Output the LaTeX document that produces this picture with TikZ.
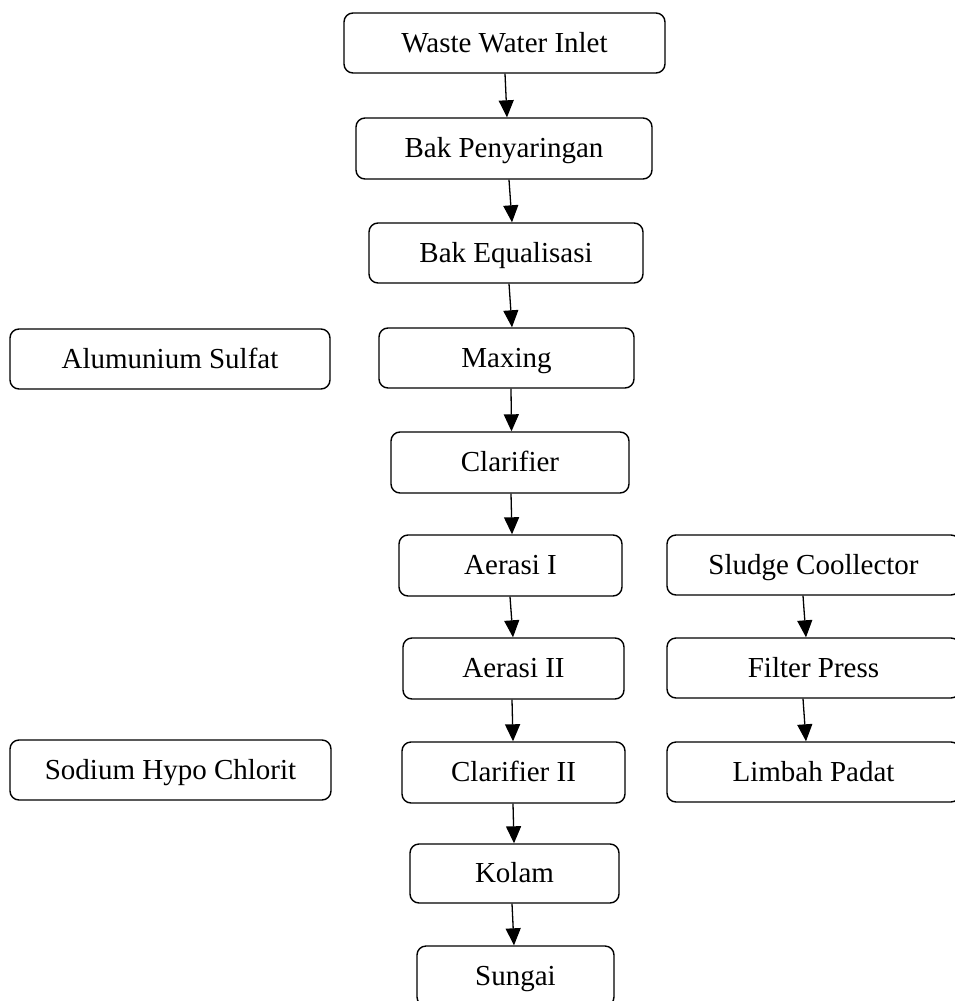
\documentclass[tikz,border=0pt]{standalone}
\usepackage{fontspec}
\setmainfont{Liberation Serif}
\usetikzlibrary{arrows.meta}
\tikzset{
  box/.style={draw, line width=1.4pt, rounded corners=9pt, inner sep=0pt,
    text height=21pt, text depth=3pt,
    font=\fontsize{29}{34}\selectfont, align=center},
  arr/.style={line width=1.3pt, -{Triangle[length=17pt,width=15pt]}}
}
\begin{document}
\begin{tikzpicture}[x=1pt,y=-1pt]
\useasboundingbox (0,0) rectangle (954,1001);
% centre column
\node[box, minimum width=321pt, minimum height=60pt] (wwi) at (504.5,43) {Waste Water Inlet};
\node[box, minimum width=296pt, minimum height=61pt] (bp) at (504,148.5) {Bak Penyaringan};
\node[box, minimum width=274pt, minimum height=60pt] (be) at (506,253) {Bak Equalisasi};
\node[box, minimum width=255pt, minimum height=60pt] (mx) at (506.5,358) {Maxing};
\node[box, minimum width=238pt, minimum height=61pt] (cl) at (510,462.5) {Clarifier};
\node[box, minimum width=223pt, minimum height=61pt] (a1) at (510.5,565.5) {Aerasi I};
\node[box, minimum width=221pt, minimum height=61pt] (a2) at (513.5,668.5) {Aerasi II};
\node[box, minimum width=223pt, minimum height=61pt] (c2) at (513.5,772.5) {Clarifier II};
\node[box, minimum width=209pt, minimum height=59pt] (ko) at (514.5,873.5) {Kolam};
\node[box, minimum width=197pt, minimum height=60pt] (su) at (515.5,976) {Sungai};
% left column
\node[box, minimum width=320pt, minimum height=60pt] (as) at (170,359) {Alumunium Sulfat};
\node[box, minimum width=321pt, minimum height=60pt] (sh) at (170.5,770) {Sodium Hypo Chlorit};
% right column
\node[box, minimum width=293pt, minimum height=60pt] (sc) at (813.5,565) {Sludge Coollector};
\node[box, minimum width=293pt, minimum height=60pt] (fp) at (813.5,668) {Filter Press};
\node[box, minimum width=293pt, minimum height=60pt] (lp) at (813.5,772) {Limbah Padat};
% connectors
\draw[arr] ([xshift=0.5pt]wwi.south) -- ([xshift=3pt]bp.north);
\draw[arr] ([xshift=5pt]bp.south) -- ([xshift=6pt]be.north);
\draw[arr] ([xshift=3pt]be.south) -- ([xshift=5.5pt]mx.north);
\draw[arr] ([xshift=4.5pt]mx.south) -- ([xshift=1.5pt]cl.north);
\draw[arr] ([xshift=1pt]cl.south) -- ([xshift=1.5pt]a1.north);
\draw[arr] ([xshift=-0.5pt]a1.south) -- ([xshift=-0.5pt]a2.north);
\draw[arr] ([xshift=-1.5pt]a2.south) -- ([xshift=-0.5pt]c2.north);
\draw[arr] ([xshift=-0.5pt]c2.south) -- ([xshift=-0.5pt]ko.north);
\draw[arr] ([xshift=-2.5pt]ko.south) -- ([xshift=-1.5pt]su.north);
\draw[arr] ([xshift=-10.5pt]sc.south) -- ([xshift=-7.5pt]fp.north);
\draw[arr] ([xshift=-10.5pt]fp.south) -- ([xshift=-7.5pt]lp.north);
\end{tikzpicture}
\end{document}
